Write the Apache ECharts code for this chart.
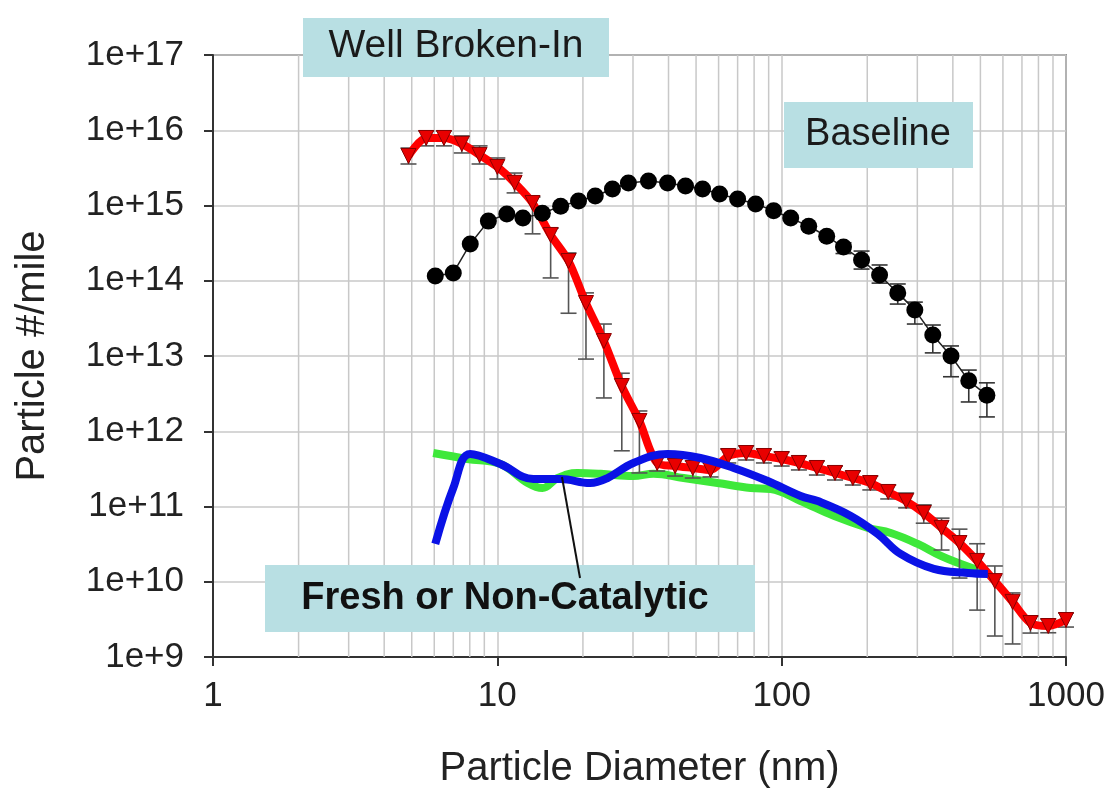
<!DOCTYPE html>
<html>
<head>
<meta charset="utf-8">
<script src="https://cdn.jsdelivr.net/npm/echarts@6/dist/echarts.min.js"></script>
<style>
  html, body { margin: 0; padding: 0; background: #fff; }
  #chart { width: 1109px; height: 789px; }
</style>
</head>
<body>
<div id="chart"></div>
<script>
// Well Broken-In (red, triangles + error bars)
const redX = [4.87, 5.62, 6.49, 7.5, 8.66, 10, 11.5, 13.3, 15.4, 17.8, 20.5, 23.7, 27.4, 31.6, 36.5, 42.2, 48.7, 56.2, 64.9, 75,
  86.6, 100, 115, 133, 154, 178, 205, 237, 274, 316, 365, 422, 487, 562, 649, 750, 866, 1000];
const redY = [4.55e15, 7.9e15, 7.9e15, 6.6e15, 4.7e15, 3.25e15, 2.0e15, 1.08e15, 4.06e14, 1.83e14, 5.06e13, 1.58e13, 3.99e12, 1.37e12,
  3.79e11, 3.45e11, 3.25e11, 3.06e11, 4.69e11, 5.14e11, 4.69e11, 4.28e11, 3.79e11, 3.25e11, 2.79e11, 2.39e11, 2.05e11, 1.56e11,
  1.18e11, 8.2e10, 5.2e10, 3.27e10, 1.89e10, 1.02e10, 5.4e9, 2.83e9, 2.58e9, 3.1e9];
const redHi = [5.8e15, 9.8e15, 9.8e15, 8.4e15, 6.2e15, 4.28e15, 2.7e15, 1.3e15, 5.0e14, 2.34e14, 6.9e13, 2.66e13, 5.9e12, 1.86e12,
  4.7e11, 4.28e11, 4.03e11, 3.79e11, 5.8e11, 6.4e11, 5.8e11, 5.3e11, 4.7e11, 4.03e11, 3.45e11, 2.96e11, 2.54e11, 1.93e11,
  1.51e11, 1.05e11, 7.0e10, 5.0e10, 3.2e10, 1.62e10, 7.1e9, 3.5e9, 3.2e9, 3.85e9];
const redLo = [3.56e15, 6.2e15, 6.2e15, 4.99e15, 3.56e15, 2.25e15, 1.47e15, 4.2e14, 1.09e14, 3.7e13, 9.1e12, 2.77e12, 5.5e11, 2.79e11,
  2.96e11, 2.54e11, 2.39e11, 2.47e11, 3.79e11, 4.15e11, 3.79e11, 3.45e11, 3.06e11, 2.62e11, 2.25e11, 1.93e11, 1.66e11, 1.26e11,
  9.6e10, 6.0e10, 2.64e10, 1.12e10, 4.2e9, 1.9e9, 1.49e9, 2.08e9, 2.1e9, 2.5e9];

// Baseline (black dots + error bars)
const blackX = [6.05, 7.0, 8.03, 9.3, 10.8, 12.3, 14.4, 16.7, 19.3, 22.1, 25.4, 28.9, 34.0, 39.7, 45.9, 52.7, 60.5, 70.0,
  81.0, 93.7, 107.6, 124.5, 144, 165, 191, 221, 256, 294, 340, 394, 455, 527];
const blackY = [1.16e14, 1.27e14, 3.08e14, 6.2e14, 7.7e14, 6.8e14, 7.9e14, 9.8e14, 1.15e15, 1.34e15, 1.66e15, 1.99e15, 2.12e15,
  1.99e15, 1.82e15, 1.66e15, 1.42e15, 1.22e15, 1.05e15, 8.5e14, 6.8e14, 5.3e14, 3.9e14, 2.8e14, 1.89e14, 1.19e14, 6.9e13,
  4.1e13, 1.9e13, 1.0e13, 4.7e12, 3.0e12];
const blackHi = [null, null, null, null, null, null, null, null, null, null, null, null, null, null, null, null, null, null,
  null, null, null, null, null, 3.2e14, 2.48e14, 1.62e14, 9.06e13, 5.2e13, 2.58e13, 1.36e13, 6.5e12, 4.4e12];
const blackLo = [null, null, null, null, null, null, null, null, null, null, null, null, null, null, null, null, null, null,
  null, null, null, null, null, 2.3e14, 1.43e14, 9.3e13, 4.9e13, 2.66e13, 1.1e13, 5.3e12, 2.45e12, 1.55e12];

// Fresh or Non-Catalytic (green and blue curves)
const greenX = [5.95, 7.84, 10.25, 12.8, 14.4, 16.3, 19.1, 23.1, 30.1, 35.4, 45.2, 59.5, 77.8, 91.5, 116.6, 152.5, 201, 242, 301, 363, 427, 502];
const greenY = [5.14e11, 4.28e11, 3.67e11, 2.05e11, 1.76e11, 2.39e11, 2.79e11, 2.72e11, 2.54e11, 2.72e11, 2.39e11, 2.05e11,
  1.76e11, 1.71e11, 1.18e11, 7.5e10, 5.2e10, 4.45e10, 3.18e10, 2.2e10, 1.72e10, 1.39e10];
const blueX = [6.05, 7.0, 8.03, 10.25, 13.4, 16.7, 21.2, 24.4, 30.1, 39.7, 51.8, 67.8, 89.3, 116.6, 134, 175, 218, 262, 343, 452, 531];
const blueY = [3.18e10, 1.76e11, 4.99e11, 3.67e11, 2.32e11, 2.32e11, 2.05e11, 2.39e11, 3.79e11, 4.99e11, 4.41e11, 3.25e11,
  2.18e11, 1.38e11, 1.18e11, 7.5e10, 4.3e10, 2.34e10, 1.48e10, 1.31e10, 1.27e10];

// minor vertical grid lines
const minorX = [2, 3, 4, 5, 6, 7, 8, 9, 20, 30, 40, 50, 60, 70, 80, 90, 200, 300, 400, 500, 600, 700, 800, 900];

const FONT = '"Liberation Sans", Arial, sans-serif';
const zip = (xs, ys) => xs.map((x, i) => [x, ys[i]]);
const errData = (xs, hi, lo) => xs.map((x, i) => [x, hi[i], lo[i]]).filter(d => d[1] != null);

const errorBar = (color) => (params, api) => {
  const x = api.value(0);
  const top = api.coord([x, api.value(1)]);
  const bot = api.coord([x, api.value(2)]);
  const w = 8;
  const st = { stroke: color, lineWidth: 1.6 };
  return {
    type: 'group',
    children: [
      { type: 'line', shape: { x1: top[0], y1: top[1], x2: bot[0], y2: bot[1] }, style: st },
      { type: 'line', shape: { x1: top[0] - w, y1: top[1], x2: top[0] + w, y2: top[1] }, style: st },
      { type: 'line', shape: { x1: bot[0] - w, y1: bot[1], x2: bot[0] + w, y2: bot[1] }, style: st }
    ]
  };
};

const chart = echarts.init(document.getElementById('chart'));
chart.setOption({
  animation: false,
  backgroundColor: '#fff',
  grid: {
    left: 213, right: 43, top: 55, bottom: 132, outerBoundsMode: 'none', containLabel: false,
    show: true, borderColor: '#444', borderWidth: 1.5
  },
  xAxis: {
    type: 'log', logBase: 10, min: 1, max: 1000,
    name: 'Particle Diameter (nm)', nameLocation: 'middle', nameGap: 92,
    nameTextStyle: { fontFamily: FONT, fontSize: 40, color: '#222' },
    axisLine: { lineStyle: { color: '#333', width: 2 } },
    axisTick: { length: 9, lineStyle: { color: '#333', width: 2 } },
    axisLabel: { fontFamily: FONT, fontSize: 35, color: '#222', margin: 22, formatter: (v) => String(Math.round(v)) },
    splitLine: { show: true, lineStyle: { color: '#c8c8c8', width: 1.5 } }
  },
  yAxis: {
    type: 'log', logBase: 10, min: 1e9, max: 1e17,
    name: 'Particle #/mile', nameLocation: 'middle', nameGap: 160,
    nameTextStyle: { fontFamily: FONT, fontSize: 40, color: '#222' },
    axisLine: { lineStyle: { color: '#333', width: 2 } },
    axisTick: { length: 9, lineStyle: { color: '#333', width: 2 } },
    axisLabel: {
      fontFamily: FONT, fontSize: 35, color: '#222', margin: 29,
      formatter: (v) => '1e+' + Math.round(Math.log10(v))
    },
    splitLine: { show: true, lineStyle: { color: '#c8c8c8', width: 1.5 } }
  },
  series: [
    {
      type: 'custom', z: 1, silent: true,
      data: minorX.map(x => [x, 1e9, 1e17]),
      encode: { x: 0, y: [1, 2] },
      renderItem: (params, api) => {
        const a = api.coord([api.value(0), api.value(1)]);
        const b = api.coord([api.value(0), api.value(2)]);
        return { type: 'line', shape: { x1: a[0], y1: a[1], x2: b[0], y2: b[1] }, style: { stroke: '#c8c8c8', lineWidth: 1.5 } };
      }
    },
    {
      type: 'line', z: 2, data: zip(greenX, greenY), smooth: 0.4, showSymbol: false,
      lineStyle: { color: '#3ee83a', width: 8 }
    },
    {
      type: 'custom', z: 3, silent: true, data: errData(redX, redHi, redLo),
      encode: { x: 0, y: [1, 2] }, renderItem: errorBar('#555')
    },
    {
      type: 'line', z: 3, data: zip(redX, redY), smooth: 0.3,
      symbol: 'triangle', symbolRotate: 180, symbolSize: 15, showAllSymbol: true,
      lineStyle: { color: '#ff0000', width: 8 },
      itemStyle: { color: '#e80000', borderColor: '#8a0000', borderWidth: 1 }
    },
    {
      type: 'line', z: 4, data: zip(blueX, blueY), smooth: 0.4, showSymbol: false,
      lineStyle: { color: '#0a12e6', width: 8 }
    },
    {
      type: 'custom', z: 5, silent: true, data: errData(blackX, blackHi, blackLo),
      encode: { x: 0, y: [1, 2] }, renderItem: errorBar('#333')
    },
    {
      type: 'line', z: 5, data: zip(blackX, blackY),
      symbol: 'circle', symbolSize: 17, showAllSymbol: true,
      lineStyle: { color: '#222', width: 1.5 },
      itemStyle: { color: '#000' }
    }
  ],
  graphic: [
    { type: 'rect', z: 100, shape: { x: 303, y: 18, width: 306, height: 59 }, style: { fill: '#b8dfe3' } },
    { type: 'text', z: 101, x: 456, y: 46, style: { text: 'Well Broken-In', font: '39px ' + FONT, fill: '#1a1a1a', align: 'center', verticalAlign: 'middle' } },
    { type: 'rect', z: 100, shape: { x: 784, y: 102, width: 189, height: 66 }, style: { fill: '#b8dfe3' } },
    { type: 'text', z: 101, x: 878, y: 135, style: { text: 'Baseline', font: '38px ' + FONT, fill: '#1a1a1a', align: 'center', verticalAlign: 'middle' } },
    { type: 'rect', z: 100, shape: { x: 265, y: 565, width: 490, height: 67 }, style: { fill: '#b8dfe3' } },
    { type: 'text', z: 101, x: 505, y: 599, style: { text: 'Fresh or Non-Catalytic', font: 'bold 38px ' + FONT, fill: '#111', align: 'center', verticalAlign: 'middle' } },
    { type: 'line', z: 102, shape: { x1: 562, y1: 477, x2: 580, y2: 578 }, style: { stroke: '#111', lineWidth: 2 } }
  ]
});
</script>
</body>
</html>
